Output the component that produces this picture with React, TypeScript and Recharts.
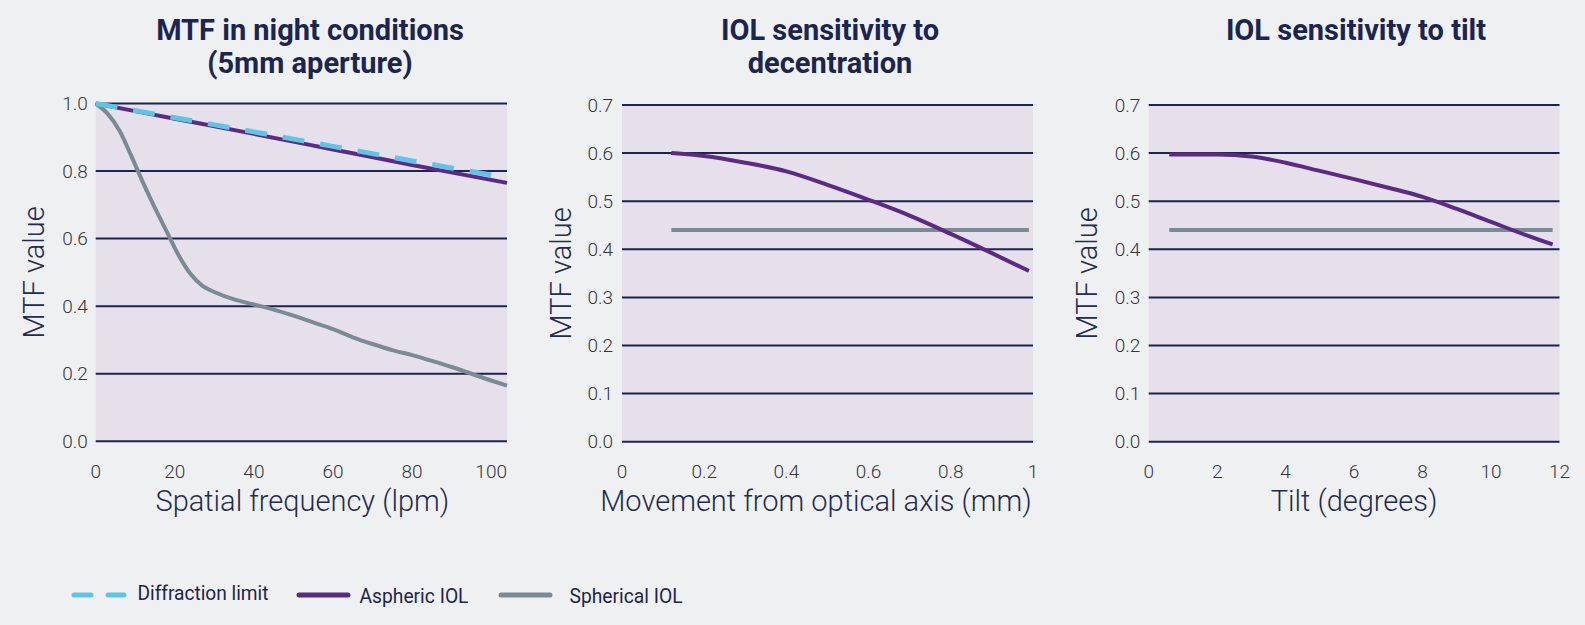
import React from 'react';
import { LineChart, Line, XAxis, YAxis, CartesianGrid } from 'recharts';

// night MTF (5mm aperture)
const diffFreq = [0, 20, 40, 60, 80, 104];
const diffMtf = [1.0, 0.958, 0.916, 0.873, 0.83, 0.78];
const asphFreq = [0, 20, 40, 60, 80, 104];
const asphMtf = [1.0, 0.955, 0.91, 0.864, 0.818, 0.765];
const sphFreq = [0, 3, 6, 9, 12, 15, 18, 21, 24, 27, 30, 35, 40, 45, 50, 55, 60, 65, 70, 75, 80, 85, 90, 95, 100, 104];
const sphMtf = [1.0, 0.97, 0.92, 0.845, 0.765, 0.69, 0.62, 0.55, 0.495, 0.46, 0.442, 0.42, 0.405, 0.39, 0.372, 0.352, 0.332, 0.308, 0.288, 0.27, 0.255, 0.238, 0.22, 0.2, 0.18, 0.165];
const freqTicks = [0, 20, 40, 60, 80, 100];
const mtfTicksNight = [0, 0.2, 0.4, 0.6, 0.8, 1.0];

// decentration
const decMm = [0.12, 0.2, 0.3, 0.4, 0.5, 0.6, 0.7, 0.8, 0.9, 0.99];
const decAsph = [0.6, 0.594, 0.58, 0.562, 0.534, 0.503, 0.47, 0.432, 0.392, 0.355];
const decSphMm = [0.12, 0.99];
const decSph = [0.44, 0.44];
const mmTicks = [0, 0.2, 0.4, 0.6, 0.8, 1];

// tilt
const tiltDeg = [0.6, 1, 2, 3, 4, 5, 6, 7, 8, 9, 10, 11, 11.8];
const tiltAsph = [0.597, 0.597, 0.597, 0.593, 0.58, 0.563, 0.546, 0.528, 0.509, 0.484, 0.457, 0.43, 0.41];
const tiltSphDeg = [0.6, 11.8];
const tiltSph = [0.44, 0.44];
const degTicks = [0, 2, 4, 6, 8, 10, 12];
const mtfTicks = [0, 0.1, 0.2, 0.3, 0.4, 0.5, 0.6, 0.7];

const zip = (xs: number[], ys: number[]) => xs.map((x, i) => ({ x, y: ys[i] }));

const FONT = 'Roboto, "Noto Sans", sans-serif';
const NAVY = '#1c2452';
const PURPLE = '#5b2a86';
const GREY = '#7b8b93';
const BLUE = '#5cc6e4';
const PLOT_BG = '#e6e0ea';
const PAGE_BG = '#eff0f1';

const tickStyle = { fill: '#34353d', fontSize: 19, fontFamily: FONT, fontWeight: 300 };
const axisLabelStyle = { fill: '#232b50', fontSize: 29, fontFamily: FONT, fontWeight: 300 };

interface PanelProps {
  left: number;
  width: number;
  margin: { top: number; right: number; bottom: number; left: number };
  xDomain: [number, number];
  xTicks: number[];
  yDomain: [number, number];
  yTicks: number[];
  xLabel: string;
  xLabelDx?: number;
  yLabelOffset: number;
  yTickMargin: number;
  children: React.ReactNode;
}

function Panel({ left, width, margin, xDomain, xTicks, yDomain, yTicks, xLabel, xLabelDx = 0, yLabelOffset, yTickMargin, children }: PanelProps) {
  return (
    <div style={{ position: 'absolute', left, top: 0 }}>
      <LineChart width={width} height={625} margin={margin}>
        <CartesianGrid vertical={false} stroke={NAVY} strokeWidth={2} fill={PLOT_BG} fillOpacity={1} />
        <XAxis
          type="number"
          dataKey="x"
          domain={xDomain}
          ticks={xTicks}
          interval={0}
          height={80}
          tickLine={false}
          axisLine={false}
          tickSize={0}
          tickMargin={23}
          tick={tickStyle}
          label={{ value: xLabel, position: 'bottom', offset: -31, dx: xLabelDx, style: axisLabelStyle }}
        />
        <YAxis
          type="number"
          domain={yDomain}
          ticks={yTicks}
          interval={0}
          width={70}
          tickLine={false}
          axisLine={false}
          tickSize={0}
          tickMargin={yTickMargin}
          tick={tickStyle}
          tickFormatter={(v: number) => v.toFixed(1)}
          label={{ value: 'MTF value', angle: -90, position: 'insideLeft', offset: yLabelOffset, style: { ...axisLabelStyle, textAnchor: 'middle' } }}
        />
        {children}
      </LineChart>
    </div>
  );
}

const titleStyle: React.CSSProperties = {
  position: 'absolute',
  top: 14,
  width: 500,
  textAlign: 'center',
  fontFamily: FONT,
  fontWeight: 700,
  fontSize: 29,
  lineHeight: '33px',
  color: '#1b2550',
};

export default function App() {
  return (
    <div style={{ position: 'relative', width: 1585, height: 625, background: PAGE_BG, overflow: 'hidden' }}>
      <style>{'body{margin:0}'}</style>

      <div style={{ ...titleStyle, left: 310 - 250 }}>MTF in night conditions<br />(5mm aperture)</div>
      <div style={{ ...titleStyle, left: 830 - 250 }}>IOL sensitivity to<br />decentration</div>
      <div style={{ ...titleStyle, left: 1356 - 250 }}>IOL sensitivity to tilt</div>

      <Panel
        left={0}
        width={530}
        margin={{ top: 103.5, right: 23, bottom: 103.7, left: 25.7 }}
        xDomain={[0, 104]}
        xTicks={freqTicks}
        yDomain={[0, 1]}
        yTicks={mtfTicksNight}
        xLabel="Spatial frequency (lpm)"
        xLabelDx={1}
        yLabelOffset={8.1}
        yTickMargin={7.8}
      >
        <Line data={zip(sphFreq, sphMtf)} dataKey="y" type="monotone" stroke={GREY} strokeWidth={4} dot={false} activeDot={false} isAnimationActive={false} />
        <Line data={zip(asphFreq, asphMtf)} dataKey="y" type="monotone" stroke={PURPLE} strokeWidth={4} dot={false} activeDot={false} isAnimationActive={false} />
        <Line data={zip(diffFreq, diffMtf)} dataKey="y" type="monotone" stroke={BLUE} strokeWidth={5} strokeDasharray="22 16" dot={false} activeDot={false} isAnimationActive={false} />
      </Panel>

      <Panel
        left={530}
        width={530}
        margin={{ top: 105, right: 27, bottom: 103.3, left: 22 }}
        xDomain={[0, 1]}
        xTicks={mmTicks}
        yDomain={[0, 0.7]}
        yTicks={mtfTicks}
        xLabel="Movement from optical axis (mm)"
        xLabelDx={-11.5}
        yLabelOffset={8.4}
        yTickMargin={9}
      >
        <Line data={zip(decSphMm, decSph)} dataKey="y" type="linear" stroke={GREY} strokeWidth={4} dot={false} activeDot={false} isAnimationActive={false} />
        <Line data={zip(decMm, decAsph)} dataKey="y" type="monotone" stroke={PURPLE} strokeWidth={4} dot={false} activeDot={false} isAnimationActive={false} />
      </Panel>

      <Panel
        left={1060}
        width={525}
        margin={{ top: 105, right: 25.5, bottom: 103.3, left: 18.7 }}
        xDomain={[0, 12]}
        xTicks={degTicks}
        yDomain={[0, 0.7]}
        yTicks={mtfTicks}
        xLabel="Tilt (degrees)"
        yLabelOffset={8.1}
        yTickMargin={8.3}
      >
        <Line data={zip(tiltSphDeg, tiltSph)} dataKey="y" type="linear" stroke={GREY} strokeWidth={4} dot={false} activeDot={false} isAnimationActive={false} />
        <Line data={zip(tiltDeg, tiltAsph)} dataKey="y" type="monotone" stroke={PURPLE} strokeWidth={4} dot={false} activeDot={false} isAnimationActive={false} />
      </Panel>

      <svg style={{ position: 'absolute', left: 0, top: 560 }} width={720} height={60}>
        <line x1={74} y1={35} x2={124} y2={35} stroke={BLUE} strokeWidth={5} strokeLinecap="round" strokeDasharray="17 17" />
        <text x={137.5} y={40} fontFamily={FONT} fontSize={21} fill="#1f2547" textLength={131} lengthAdjust="spacingAndGlyphs">Diffraction limit</text>
        <line x1={299} y1={35} x2={348} y2={35} stroke={PURPLE} strokeWidth={5} strokeLinecap="round" />
        <text x={359.5} y={43} fontFamily={FONT} fontSize={21} fill="#1f2547" textLength={109} lengthAdjust="spacingAndGlyphs">Aspheric IOL</text>
        <line x1={501} y1={35} x2={550} y2={35} stroke={GREY} strokeWidth={5} strokeLinecap="round" />
        <text x={569.5} y={43} fontFamily={FONT} fontSize={21} fill="#1f2547" textLength={113} lengthAdjust="spacingAndGlyphs">Spherical IOL</text>
      </svg>
    </div>
  );
}
